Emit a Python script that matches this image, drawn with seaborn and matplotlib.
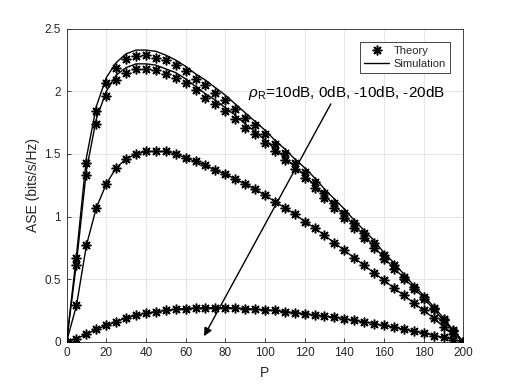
import numpy as np
import pandas as pd
import matplotlib
matplotlib.use("Agg")
import matplotlib.pyplot as plt
import seaborn as sns

# ---------------- data ----------------
P = [0, 5, 10, 15, 20, 25, 30, 35, 40, 45, 50, 55, 60, 65, 70, 75, 80, 85, 90, 95,
     100, 105, 110, 115, 120, 125, 130, 135, 140, 145, 150, 155, 160, 165, 170, 175,
     180, 185, 190, 195, 200]

theory_10dB = [0, 0.67, 1.43, 1.84, 2.07, 2.19, 2.26, 2.28, 2.29, 2.27, 2.25, 2.21, 2.16,
               2.10, 2.05, 1.99, 1.93, 1.86, 1.79, 1.73, 1.66, 1.58, 1.51, 1.43, 1.36, 1.28,
               1.19, 1.11, 1.03, 0.95, 0.87, 0.79, 0.69, 0.61, 0.52, 0.44, 0.36, 0.27, 0.18,
               0.09, 0]
theory_0dB = [0, 0.61, 1.33, 1.74, 1.96, 2.09, 2.15, 2.18, 2.18, 2.17, 2.14, 2.11, 2.07,
              2.01, 1.95, 1.90, 1.84, 1.78, 1.71, 1.66, 1.59, 1.52, 1.45, 1.38, 1.31, 1.23,
              1.15, 1.07, 0.99, 0.91, 0.83, 0.75, 0.66, 0.58, 0.50, 0.42, 0.34, 0.26, 0.17,
              0.085, 0]
theory_m10dB = [0, 0.29, 0.77, 1.07, 1.26, 1.39, 1.46, 1.50, 1.52, 1.52, 1.52, 1.50, 1.47,
                1.44, 1.41, 1.37, 1.34, 1.30, 1.26, 1.22, 1.17, 1.12, 1.07, 1.02, 0.96, 0.91,
                0.85, 0.79, 0.73, 0.67, 0.61, 0.55, 0.49, 0.43, 0.37, 0.31, 0.25, 0.19, 0.12,
                0.06, 0]
theory_m20dB = [0, 0.025, 0.06, 0.10, 0.13, 0.16, 0.19, 0.21, 0.23, 0.24, 0.25, 0.26, 0.265,
                0.27, 0.27, 0.272, 0.272, 0.27, 0.265, 0.26, 0.255, 0.25, 0.24, 0.233, 0.225,
                0.215, 0.205, 0.195, 0.185, 0.17, 0.16, 0.145, 0.13, 0.115, 0.10, 0.085, 0.07,
                0.05, 0.035, 0.017, 0]

sim_10dB = [0, 0.69, 1.47, 1.88, 2.11, 2.23, 2.30, 2.33, 2.33, 2.32, 2.29, 2.25, 2.20,
            2.14, 2.09, 2.03, 1.97, 1.90, 1.83, 1.76, 1.69, 1.61, 1.54, 1.46, 1.39, 1.31,
            1.22, 1.14, 1.06, 0.97, 0.89, 0.81, 0.71, 0.63, 0.54, 0.45, 0.37, 0.28, 0.19,
            0.09, 0]
sim_0dB = [0, 0.63, 1.37, 1.78, 2.00, 2.13, 2.19, 2.22, 2.22, 2.21, 2.18, 2.15, 2.10,
           2.04, 1.98, 1.93, 1.87, 1.81, 1.74, 1.68, 1.61, 1.54, 1.47, 1.40, 1.33, 1.25,
           1.17, 1.09, 1.01, 0.93, 0.85, 0.76, 0.67, 0.59, 0.51, 0.43, 0.35, 0.26, 0.17,
           0.09, 0]
sim_m10dB = theory_m10dB
sim_m20dB = theory_m20dB

x_ticks = [0, 20, 40, 60, 80, 100, 120, 140, 160, 180, 200]
y_ticks = [0, 0.5, 1, 1.5, 2, 2.5]
y_tick_labels = ["0", "0.5", "1", "1.5", "2", "2.5"]

# ---------------- style ----------------
sns.set_style("ticks")
plt.rcParams["font.family"] = ["Liberation Sans", "DejaVu Sans"]
plt.rcParams["mathtext.fontset"] = "custom"
plt.rcParams["mathtext.rm"] = "Liberation Sans"
plt.rcParams["mathtext.it"] = "Liberation Sans:italic"

fig = plt.figure(figsize=(5.12, 3.84), dpi=100)
ax = fig.add_axes([0.13, 0.11, 0.775, 0.815])

dark = "#262626"
star = (8, 2, 0)

theories = [theory_10dB, theory_0dB, theory_m10dB, theory_m20dB]
sims = [sim_10dB, sim_0dB, sim_m10dB, sim_m20dB]

for i, s in enumerate(sims):
    df = pd.DataFrame({"P": P, "ASE": s})
    sns.lineplot(data=df, x="P", y="ASE", ax=ax, color="black", linewidth=1.0,
                 label="Simulation" if i == 0 else "_nolegend_", zorder=3)

for i, t in enumerate(theories):
    df = pd.DataFrame({"P": P, "ASE": t})
    sns.lineplot(data=df, x="P", y="ASE", ax=ax, color="black", linestyle="none",
                 marker=star, markersize=7, markeredgewidth=1.1,
                 markeredgecolor="black", markerfacecolor="none",
                 label="Theory" if i == 0 else "_nolegend_", zorder=4)

ax.set_xlim(0, 200)
ax.set_ylim(0, 2.5)
ax.set_xticks(x_ticks)
ax.set_yticks(y_ticks)
ax.set_yticklabels(y_tick_labels)
ax.grid(True, color="#e6e6e6", linewidth=0.8)
ax.set_axisbelow(True)
ax.tick_params(direction="in", length=3, width=0.6, colors=dark, labelsize=8.5, pad=4)
for sp in ax.spines.values():
    sp.set_visible(True)
    sp.set_color(dark)
    sp.set_linewidth(0.6)
ax.set_xlabel("P", fontsize=10, color=dark, labelpad=5)
ax.set_ylabel("ASE (bits/s/Hz)", fontsize=10, color=dark, labelpad=3)

handles, labels = ax.get_legend_handles_labels()
order = [labels.index("Theory"), labels.index("Simulation")]
leg = ax.legend([handles[j] for j in order], [labels[j] for j in order],
                loc="upper right", bbox_to_anchor=(0.966, 0.959), borderaxespad=0,
                fontsize=8, frameon=True, fancybox=False, edgecolor=dark, framealpha=1,
                handlelength=2.3, borderpad=0.35, labelspacing=0.3, handletextpad=0.4)
leg.get_frame().set_linewidth(0.6)

ax.annotate("", xy=(69.3, 0.045), xytext=(133.2, 1.90),
            arrowprops=dict(arrowstyle="-|>", color="black", lw=1.0,
                            mutation_scale=12, shrinkA=0, shrinkB=0))
ax.text(91.5, 1.99, r"$\it{\rho}_{\rm R}$=10dB, 0dB, -10dB, -20dB", fontsize=11,
        color="black", va="center", ha="left")

fig.savefig("out.png", dpi=100)
